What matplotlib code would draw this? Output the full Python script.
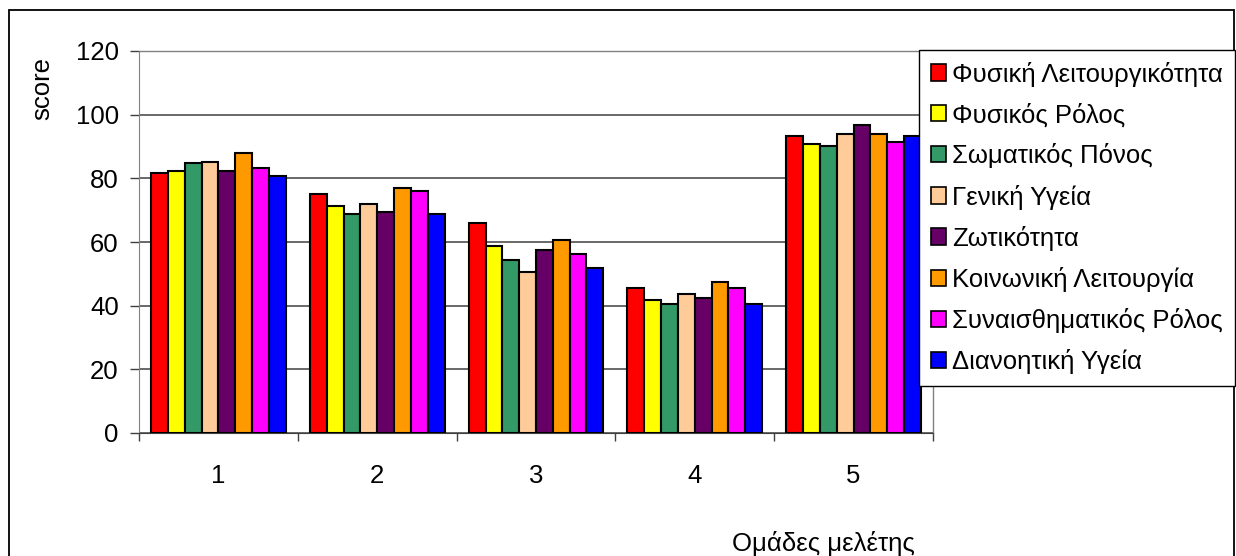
import matplotlib
matplotlib.use("Agg")
import matplotlib.pyplot as plt
import numpy as np
from matplotlib.patches import Rectangle

plt.rcParams['font.family'] = ['Liberation Sans', 'DejaVu Sans']

groups = ["1", "2", "3", "4", "5"]
series = [
    "Φυσική Λειτουργικότητα",
    "Φυσικός Ρόλος",
    "Σωματικός Πόνος",
    "Γενική Υγεία",
    "Ζωτικότητα",
    "Κοινωνική Λειτουργία",
    "Συναισθηματικός Ρόλος",
    "Διανοητική Υγεία",
]
colors = ["#FF0000", "#FFFF00", "#339966", "#FFCC99",
          "#660066", "#FF9900", "#FF00FF", "#0000FF"]

fysiki_leitourgikotita = [81.6, 75.2, 65.9, 45.6, 93.4]
fysikos_rolos = [82.3, 71.4, 58.8, 41.8, 90.9]
somatikos_ponos = [84.7, 68.8, 54.5, 40.6, 90.3]
geniki_ygeia = [85.2, 72.0, 50.7, 43.8, 94.0]
zotikotita = [82.3, 69.5, 57.6, 42.5, 96.7]
koinoniki_leitourgia = [87.9, 77.1, 60.6, 47.5, 94.0]
synaisthimatikos_rolos = [83.4, 75.9, 56.3, 45.6, 91.5]
dianoitiki_ygeia = [80.8, 68.8, 51.9, 40.6, 93.4]

values = [fysiki_leitourgikotita, fysikos_rolos, somatikos_ponos, geniki_ygeia,
          zotikotita, koinoniki_leitourgia, synaisthimatikos_rolos, dianoitiki_ygeia]

yticks = [0, 20, 40, 60, 80, 100, 120]

W, H = 1236, 556
fig = plt.figure(figsize=(W / 100, H / 100), dpi=100)
ax = fig.add_axes([139 / W, 1 - 433 / H, (933 - 139) / W, (433 - 51) / H])

FS = 18.5
x = np.arange(1, len(groups) + 1)
bw = 0.106
n = len(series)
for i, (name, vals, c) in enumerate(zip(series, values, colors)):
    off = (i - (n - 1) / 2) * bw
    ax.bar(x + off, vals, width=bw, color=c, edgecolor="black",
           linewidth=1.5, label=name, zorder=3)

ax.set_xlim(0.5, len(groups) + 0.5)
ax.set_ylim(0, 120)
ax.set_yticks(yticks)
ax.set_yticklabels([str(t) for t in yticks], fontsize=FS)
ax.yaxis.grid(True, color="#404040", linewidth=1.1, zorder=0)
ax.set_axisbelow(True)

# boundary ticks between groups, labels centred on each group
ax.set_xticks(np.arange(0.5, len(groups) + 1, 1.0))
ax.set_xticklabels([])
ax.set_xticks(x, minor=True)
ax.set_xticklabels(groups, minor=True, fontsize=FS)
ax.tick_params(axis="x", which="major", length=6, width=1, color="#404040")
ax.tick_params(axis="x", which="minor", length=0, pad=22)
ax.tick_params(axis="y", length=6.5, width=1, color="#404040", pad=8)

for side in ["top", "right"]:
    ax.spines[side].set_color("#808080")
    ax.spines[side].set_linewidth(1)
ax.spines["left"].set_color("#808080")
ax.spines["bottom"].set_color("#404040")

fig.text(42 / W, 1 - 89 / H, "score", rotation=90, ha="center", va="center",
         fontsize=FS)
fig.text(823 / W, 1 - 543 / H, "Ομάδες μελέτης", ha="center", va="center",
         fontsize=FS)

leg = fig.legend(loc="upper left", bbox_to_anchor=(919 / W, 1 - 50 / H),
                 bbox_transform=fig.transFigure, fontsize=FS, frameon=True,
                 fancybox=False, framealpha=1, edgecolor="black",
                 borderaxespad=0, handlelength=0.6, handleheight=0.6,
                 handletextpad=0.25, labelspacing=0.63, borderpad=0.45)
leg.get_frame().set_linewidth(1)
for h in leg.legend_handles:
    h.set_linewidth(1.2)

fig.patches.append(Rectangle((9 / W, -0.02), (1234 - 9) / W, (556 - 10) / H + 0.02,
                             transform=fig.transFigure, fill=False,
                             edgecolor="black", linewidth=1.3, zorder=0))

fig.savefig("out.png", dpi=100, facecolor="white")
